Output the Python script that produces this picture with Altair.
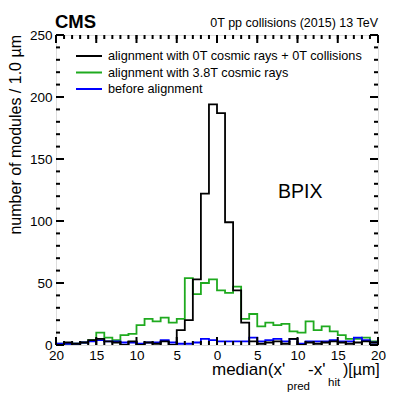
import altair as alt
import pandas as pd

FONT = "Liberation Sans"

edges = list(range(-20, 21))
s_black = "alignment with 0T cosmic rays + 0T collisions"
s_green = "alignment with 3.8T cosmic rays"
s_blue = "before alignment"
series_order = [s_black, s_green, s_blue]
series_colors = ["#000000", "#1faa1f", "#0000ff"]

black = [0, 2, 1, 2, 4, 5, 3, 2, 0, 3, 0, 2, 1, 3, 0, 12, 20, 53, 122, 194,
         187, 99, 44, 18, 3, 1, 2, 3, 1, 5, 0, 2, 1, 2, 3, 2, 1, 2, 3, 2]
green = [1, 1, 1, 2, 4, 10, 6, 4, 8, 9, 16, 21, 19, 22, 18, 21, 54, 41, 50, 53,
         44, 42, 47, 21, 25, 15, 18, 16, 17, 11, 10, 19, 12, 15, 11, 8, 5, 5, 6, 3]
blue = [1, 1, 1, 2, 3, 4, 3, 3, 2, 2, 1, 2, 2, 4, 2, 1, 1, 2, 5, 4,
        3, 3, 3, 3, 6, 3, 4, 5, 3, 5, 1, 3, 3, 3, 4, 3, 3, 6, 4, 2]

x_major = [-20, -15, -10, -5, 0, 5, 10, 15, 20]
x_minor = list(range(-20, 21))
y_major = [0, 50, 100, 150, 200, 250]
y_minor = list(range(0, 251, 10))

W, H = 322, 310

rows = []
for name, vals in [(s_green, green), (s_blue, blue), (s_black, black)]:
    ext = vals + [vals[-1]]
    for e, v in zip(edges, ext):
        rows.append({"x": e, "n": v, "series": name})
df = pd.DataFrame(rows)

xs = alt.Scale(domain=[-20, 20], nice=False, zero=False)
ys = alt.Scale(domain=[0, 250], nice=False)
cs = alt.Scale(domain=series_order, range=series_colors)

hist = alt.Chart(df).mark_line(interpolate="step-after", strokeWidth=1.8, clip=True).encode(
    x=alt.X("x:Q", scale=xs,
            axis=alt.Axis(values=x_major, labelExpr="format(abs(datum.value), 'd')",
                          title=None, ticks=False, domain=False, grid=False,
                          labelFont=FONT, labelFontSize=13.5, labelColor="black",
                          labelPadding=3, labelFlush=False)),
    y=alt.Y("n:Q", scale=ys,
            axis=alt.Axis(values=y_major, title=None, ticks=False, domain=False, grid=False,
                          labelFont=FONT, labelFontSize=13.5, labelColor="black",
                          labelPadding=4, labelFlush=False)),
    color=alt.Color("series:N", scale=cs, legend=None),
)

# legend (manual, ROOT style)
leg_rows = []
for i, (name, col) in enumerate(zip(series_order, series_colors)):
    leg_rows.append({"series": name, "i": i})
legend_layers = []
for i, name in enumerate(series_order):
    d = pd.DataFrame({"series": [name]})
    yc = 21 + 16.5 * i
    legend_layers.append(alt.Chart(d).mark_rule(strokeWidth=2).encode(
        x=alt.value(20), x2=alt.value(46), y=alt.value(yc),
        color=alt.Color("series:N", scale=cs, legend=None)))
    legend_layers.append(alt.Chart(d).mark_text(
        font=FONT, fontSize=12.7, align="left", baseline="middle", color="black").encode(
        text="series:N", x=alt.value(52), y=alt.value(yc)))

xmaj = pd.DataFrame({"v": x_major})
xmin = pd.DataFrame({"v": x_minor})
ymaj = pd.DataFrame({"v": y_major})
ymin = pd.DataFrame({"v": y_minor})

def xt(d, L, bottom):
    if bottom:
        return alt.Chart(d).mark_rule(color="black", strokeWidth=2).encode(
            x=alt.X("v:Q", scale=xs), y=alt.value(H), y2=alt.value(H - L))
    return alt.Chart(d).mark_rule(color="black", strokeWidth=2).encode(
        x=alt.X("v:Q", scale=xs), y=alt.value(0), y2=alt.value(L))

def yt(d, L, left):
    if left:
        return alt.Chart(d).mark_rule(color="black", strokeWidth=2).encode(
            y=alt.Y("v:Q", scale=ys), x=alt.value(0), x2=alt.value(L))
    return alt.Chart(d).mark_rule(color="black", strokeWidth=2).encode(
        y=alt.Y("v:Q", scale=ys), x=alt.value(W), x2=alt.value(W - L))

ticks = [xt(xmaj, 8, True), xt(xmin, 4, True), xt(xmaj, 8, False), xt(xmin, 4, False),
         yt(ymaj, 8, True), yt(ymin, 4, True), yt(ymaj, 8, False), yt(ymin, 4, False)]

def txt(text, x, y, size, align="left", weight="normal", angle=0):
    return alt.Chart(pd.DataFrame({"t": [text]})).mark_text(
        font=FONT, fontSize=size, fontWeight=weight, align=align, baseline="alphabetic",
        color="black", angle=angle).encode(text="t:N", x=alt.value(x), y=alt.value(y))

texts = [
    txt("CMS", -1, -7, 18.5, weight="bold"),
    txt("0T pp collisions (2015) 13 TeV", W, -8, 12.5, align="right"),
    txt("BPIX", 222, 163, 19.5),
    txt("median(x'", 156, 30 + H, 17),
    txt("pred", 231, 45 + H, 11.5),
    txt("-x'", 252, 30 + H, 17),
    txt("hit", 272, 41 + H, 11.5),
    txt(")[µm]", 287, 30 + H, 16),
    txt("number of modules / 1.0 µm", -35, 0, 16, align="right", angle=270),
]

chart = alt.layer(hist, *ticks, *legend_layers, *texts).properties(
    width=W, height=H,
    autosize=alt.AutoSizeParams(type="none"),
    padding={"left": 48, "top": 27, "right": 13, "bottom": 48},
).configure_view(stroke="black", strokeWidth=2).configure(background="white")

chart.save("out.html", embed_options={"renderer": "svg", "actions": False})
